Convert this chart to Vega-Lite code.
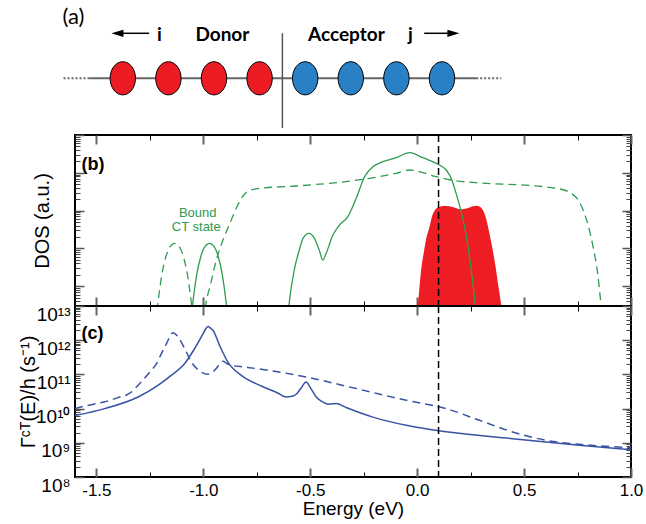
{
"$schema":"https://vega.github.io/schema/vega-lite/v6.json",
"padding":{"left":17,"top":0,"right":0,"bottom":0},
"spacing":0,
"bounds":"flush",
"datasets":{
"chain":[{"from":-4.8,"to":-4.23,"level":2.1,"kind":"dotted"},{"from":-4.23,"to":4.25,"level":2.1,"kind":"solid"},{"from":4.25,"to":4.8,"level":2.1,"kind":"dotted"}],
"interface":[{"site":0,"bottom":0.26,"top":3.77}],
"sites":[{"site":-3.5,"level":2.1,"side":"Donor"},{"site":-2.5,"level":2.1,"side":"Donor"},{"site":-1.5,"level":2.1,"side":"Donor"},{"site":-0.5,"level":2.1,"side":"Donor"},{"site":0.5,"level":2.1,"side":"Acceptor"},{"site":1.5,"level":2.1,"side":"Acceptor"},{"site":2.5,"level":2.1,"side":"Acceptor"},{"site":3.5,"level":2.1,"side":"Acceptor"}],
"arrows":[{"from":-3.55,"to":-2.92,"level":3.767,"dir":"left","tip":-3.618},{"from":3.11,"to":3.64,"level":3.767,"dir":"right","tip":3.75}],
"labelsA":[{"site":-2.697,"level":3.704,"t":"i"},{"site":-1.316,"level":3.704,"t":"Donor"},{"site":1.404,"level":3.704,"t":"Acceptor"},{"site":2.807,"level":3.704,"t":"j"}],
"panelA":[{"site":-4.583,"level":4.352,"t":"(a)"}],
"threshold":[{"E":0.1}],
"panelB":[{"E":-1.57,"DOS":16070,"t":"(b)"}],
"panelC":[{"E":-1.57,"rate":1.538e12,"t":"(c)"}],
"boundLabel":[{"E":-1.026,"DOS":865,"t":"Bound"},{"E":-1.033,"DOS":375,"t":"CT state"}],
"acceptorDOS":[{"E":0.003,"DOS":3.0},{"E":0.012,"DOS":11},{"E":0.02,"DOS":31.6},{"E":0.03,"DOS":71},{"E":0.042,"DOS":178},{"E":0.057,"DOS":355},{"E":0.068,"DOS":660},{"E":0.082,"DOS":1000},{"E":0.097,"DOS":1202},{"E":0.12,"DOS":1324},{"E":0.15,"DOS":1300},{"E":0.18,"DOS":1180},{"E":0.206,"DOS":1080},{"E":0.235,"DOS":1150},{"E":0.26,"DOS":1300},{"E":0.276,"DOS":1350},{"E":0.295,"DOS":1250},{"E":0.307,"DOS":1038},{"E":0.322,"DOS":625},{"E":0.338,"DOS":250},{"E":0.352,"DOS":100},{"E":0.366,"DOS":35},{"E":0.38,"DOS":10},{"E":0.394,"DOS":3.0}],
"dosDashed":[{"E":-1.224,"DOS":1.0},{"E":-1.214,"DOS":3.02},{"E":-1.204,"DOS":8.3},{"E":-1.194,"DOS":20},{"E":-1.174,"DOS":63},{"E":-1.154,"DOS":115},{"E":-1.134,"DOS":136},{"E":-1.114,"DOS":115},{"E":-1.094,"DOS":63},{"E":-1.074,"DOS":20},{"E":-1.064,"DOS":8.3},{"E":-1.054,"DOS":3.02},{"E":-1.044,"DOS":1.0},{"E":-0.999,"DOS":1.0},{"E":-0.989,"DOS":3.05},{"E":-0.967,"DOS":10.8},{"E":-0.939,"DOS":49.3},{"E":-0.908,"DOS":167},{"E":-0.877,"DOS":443},{"E":-0.841,"DOS":1324},{"E":-0.807,"DOS":2748},{"E":-0.776,"DOS":3508},{"E":-0.743,"DOS":3846},{"E":-0.565,"DOS":4477},{"E":-0.254,"DOS":6730},{"E":-0.098,"DOS":9705},{"E":-0.036,"DOS":11860},{"E":0.089,"DOS":7889},{"E":0.159,"DOS":6457},{"E":0.65,"DOS":3890},{"E":0.72,"DOS":2871},{"E":0.758,"DOS":1718},{"E":0.79,"DOS":625},{"E":0.821,"DOS":123},{"E":0.845,"DOS":19.8},{"E":0.86,"DOS":3.05},{"E":0.868,"DOS":1.0}],
"dosSolid":[{"E":-1.061,"DOS":1.0},{"E":-1.051,"DOS":3.02},{"E":-1.041,"DOS":8.3},{"E":-1.031,"DOS":20},{"E":-1.011,"DOS":63},{"E":-0.991,"DOS":115},{"E":-0.971,"DOS":136},{"E":-0.951,"DOS":115},{"E":-0.931,"DOS":63},{"E":-0.911,"DOS":20},{"E":-0.901,"DOS":8.3},{"E":-0.891,"DOS":3.02},{"E":-0.881,"DOS":1.0},{"E":-0.608,"DOS":1.0},{"E":-0.6,"DOS":3.05},{"E":-0.573,"DOS":29.8},{"E":-0.551,"DOS":90.8},{"E":-0.533,"DOS":188},{"E":-0.506,"DOS":251},{"E":-0.481,"DOS":188},{"E":-0.458,"DOS":90.8},{"E":-0.441,"DOS":49.3},{"E":-0.425,"DOS":75.5},{"E":-0.394,"DOS":226},{"E":-0.363,"DOS":416},{"E":-0.324,"DOS":690},{"E":-0.285,"DOS":2113},{"E":-0.246,"DOS":7889},{"E":-0.207,"DOS":14490},{"E":-0.16,"DOS":19680},{"E":-0.098,"DOS":25060},{"E":-0.036,"DOS":34040},{"E":0.027,"DOS":25060},{"E":0.097,"DOS":16790},{"E":0.136,"DOS":11860},{"E":0.159,"DOS":7145},{"E":0.182,"DOS":2871},{"E":0.206,"DOS":935},{"E":0.229,"DOS":226},{"E":0.252,"DOS":29.8},{"E":0.272,"DOS":3.05},{"E":0.28,"DOS":1.0}],
"rateDashed":[{"E":-1.6,"rate":1.0e10},{"E":-1.55,"rate":1.202e10},{"E":-1.5,"rate":1.413e10},{"E":-1.461,"rate":1.585e10},{"E":-1.4,"rate":2.089e10},{"E":-1.336,"rate":3.055e10},{"E":-1.313,"rate":4.266e10},{"E":-1.28,"rate":7.079e10},{"E":-1.243,"rate":1.318e11},{"E":-1.22,"rate":1.995e11},{"E":-1.196,"rate":4.055e11},{"E":-1.17,"rate":8.511e11},{"E":-1.155,"rate":1.318e12},{"E":-1.142,"rate":1.66e12},{"E":-1.118,"rate":1.242e12},{"E":-1.087,"rate":5.675e11},{"E":-1.056,"rate":2.307e11},{"E":-1.017,"rate":1.256e11},{"E":-0.978,"rate":1.007e11},{"E":-0.947,"rate":1.318e11},{"E":-0.92,"rate":2.089e11},{"E":-0.908,"rate":2.415e11},{"E":-0.89,"rate":2.089e11},{"E":-0.869,"rate":1.845e11},{"E":-0.807,"rate":1.644e11},{"E":-0.729,"rate":1.413e11},{"E":-0.519,"rate":8.395e10},{"E":-0.285,"rate":3.846e10},{"E":-0.051,"rate":1.75e10},{"E":0.136,"rate":1.0e10},{"E":0.291,"rate":4.55e9},{"E":0.447,"rate":2.07e9},{"E":0.603,"rate":1.183e9},{"E":0.758,"rate":9.036e8},{"E":1.0,"rate":7.244e8}],
"rateSolid":[{"E":-1.6,"rate":6.31e9},{"E":-1.461,"rate":1.0e10},{"E":-1.305,"rate":2.188e10},{"E":-1.212,"rate":4.786e10},{"E":-1.15,"rate":9.333e10},{"E":-1.087,"rate":2.089e11},{"E":-1.041,"rate":5.623e11},{"E":-1.001,"rate":1.549e12},{"E":-0.988,"rate":2.188e12},{"E":-0.978,"rate":2.512e12},{"E":-0.966,"rate":2.239e12},{"E":-0.955,"rate":1.95e12},{"E":-0.924,"rate":7.079e11},{"E":-0.885,"rate":2.291e11},{"E":-0.822,"rate":9.333e10},{"E":-0.729,"rate":4.571e10},{"E":-0.65,"rate":2.818e10},{"E":-0.612,"rate":2.188e10},{"E":-0.585,"rate":2.291e10},{"E":-0.565,"rate":2.63e10},{"E":-0.545,"rate":3.802e10},{"E":-0.519,"rate":6.026e10},{"E":-0.5,"rate":4.169e10},{"E":-0.472,"rate":2.188e10},{"E":-0.444,"rate":1.585e10},{"E":-0.417,"rate":1.349e10},{"E":-0.393,"rate":1.38e10},{"E":-0.379,"rate":1.413e10},{"E":-0.332,"rate":1.072e10},{"E":-0.207,"rate":5.623e9},{"E":-0.051,"rate":3.236e9},{"E":0.136,"rate":2.089e9},{"E":0.447,"rate":1.318e9},{"E":0.758,"rate":8.511e8},{"E":1.0,"rate":6.31e8}]
},
"vconcat":[
{
"width":556,"height":135,"view":{"stroke":null},
"layer":[
{"data":{"name":"chain"},"mark":{"type":"rule","color":"#666","strokeWidth":2},
 "encoding":{"x":{"field":"from","type":"quantitative","scale":{"domain":[-4.548,7.645],"nice":false,"zero":false},"axis":null},"x2":{"field":"to"},
  "y":{"field":"level","type":"quantitative","scale":{"domain":[0,5],"nice":false,"zero":false},"axis":null},
  "strokeDash":{"field":"kind","type":"nominal","scale":{"domain":["solid","dotted"],"range":[[1,0],[2,2]]},"legend":null}}},
{"data":{"name":"interface"},"mark":{"type":"rule","color":"#555","strokeWidth":1.5},
 "encoding":{"x":{"field":"site","type":"quantitative","scale":{"domain":[-4.548,7.645],"nice":false,"zero":false},"axis":null},
  "y":{"field":"bottom","type":"quantitative","scale":{"domain":[0,5],"nice":false,"zero":false},"axis":null},"y2":{"field":"top"}}},
{"data":{"name":"sites"},"mark":{"type":"point","shape":"M 0 -1 C 0.423 -1 0.766 -0.552 0.766 0 C 0.766 0.552 0.423 1 0 1 C -0.423 1 -0.766 0.552 -0.766 0 C -0.766 -0.552 -0.423 -1 0 -1 Z","size":1100,"filled":true,"opacity":1,"stroke":"black","strokeWidth":1},
 "encoding":{"x":{"field":"site","type":"quantitative","scale":{"domain":[-4.548,7.645],"nice":false,"zero":false},"axis":null},
  "y":{"field":"level","type":"quantitative","scale":{"domain":[0,5],"nice":false,"zero":false},"axis":null},
  "color":{"field":"side","type":"nominal","scale":{"domain":["Donor","Acceptor"],"range":["#ed1c24","#2a80c5"]},"legend":null}}},
{"data":{"name":"arrows"},"mark":{"type":"rule","color":"black","strokeWidth":1.5},
 "encoding":{"x":{"field":"from","type":"quantitative","scale":{"domain":[-4.548,7.645],"nice":false,"zero":false},"axis":null},"x2":{"field":"to"},
  "y":{"field":"level","type":"quantitative","scale":{"domain":[0,5],"nice":false,"zero":false},"axis":null}}},
{"data":{"name":"arrows"},"mark":{"type":"point","size":144,"filled":true,"opacity":1,"color":"black"},
 "encoding":{"x":{"field":"tip","type":"quantitative","scale":{"domain":[-4.548,7.645],"nice":false,"zero":false},"axis":null},
  "y":{"field":"level","type":"quantitative","scale":{"domain":[0,5],"nice":false,"zero":false},"axis":null},
  "shape":{"field":"dir","type":"nominal","scale":{"domain":["left","right"],"range":["M -1 0 L 1 -0.6 L 1 0.6 Z","M 1 0 L -1 -0.6 L -1 0.6 Z"]},"legend":null}}},
{"data":{"name":"labelsA"},"mark":{"type":"text","font":"Lato","fontWeight":"bold","fontSize":19,"align":"center","baseline":"middle","color":"black"},
 "encoding":{"x":{"field":"site","type":"quantitative","scale":{"domain":[-4.548,7.645],"nice":false,"zero":false},"axis":null},
  "y":{"field":"level","type":"quantitative","scale":{"domain":[0,5],"nice":false,"zero":false},"axis":null},"text":{"field":"t"}}},
{"data":{"name":"panelA"},"mark":{"type":"text","font":"Lato","fontSize":22,"align":"center","baseline":"middle","color":"black"},
 "encoding":{"x":{"field":"site","type":"quantitative","scale":{"domain":[-4.548,7.645],"nice":false,"zero":false},"axis":null},
  "y":{"field":"level","type":"quantitative","scale":{"domain":[0,5],"nice":false,"zero":false},"axis":null},"text":{"field":"t"}}}
]
},
{
"width":556,"height":171,
"resolve":{"axis":{"x":"independent","y":"independent"}},
"layer":[
{"data":{"name":"acceptorDOS"},"mark":{"type":"area","color":"#ee1d24","clip":true,"interpolate":"monotone"},
 "encoding":{"x":{"field":"E","type":"quantitative","scale":{"domain":[-1.6,1.0],"nice":false,"zero":false},"axis":{"orient":"bottom","values":[-1.5,-1,-0.5,0,0.5,1],"tickSize":-9,"tickColor":"#666","tickWidth":2,"labels":false,"title":null}},
  "y":{"field":"DOS","type":"quantitative","scale":{"type":"log","domain":[3,100000],"nice":false},"axis":{"orient":"left","values":[10,100,1000,10000,100000],"tickSize":-9,"tickColor":"#555","tickWidth":1.5,"labels":false,"title":"DOS (a.u.)","titleFontSize":20,"titleFontWeight":"normal","titleX":-27,"titleBaseline":"alphabetic"}},
  "y2":{"datum":3}}},
{"data":{"name":"dosDashed"},"mark":{"type":"line","color":"#2e9b50","strokeWidth":1.3,"strokeDash":[8,5],"clip":true,"interpolate":"monotone"},
 "encoding":{"x":{"field":"E","type":"quantitative","scale":{"domain":[-1.6,1.0],"nice":false,"zero":false},"axis":{"orient":"bottom","values":[-1.25,-0.75,-0.25,0.25,0.75],"tickSize":-5,"tickColor":"#111","tickWidth":1,"labels":false,"title":null}},
  "y":{"field":"DOS","type":"quantitative","scale":{"type":"log","domain":[3,100000],"nice":false},"axis":{"orient":"left","values":[4,5,6,7,8,9,20,30,40,50,60,70,80,90,200,300,400,500,600,700,800,900,2000,3000,4000,5000,6000,7000,8000,9000,20000,30000,40000,50000,60000,70000,80000,90000],"tickSize":-5,"tickColor":"#444","tickWidth":1,"labels":false,"title":null}}}},
{"data":{"name":"dosSolid"},"mark":{"type":"line","color":"#2e9b50","strokeWidth":1.3,"clip":true,"interpolate":"monotone"},
 "encoding":{"x":{"field":"E","type":"quantitative","scale":{"domain":[-1.6,1.0],"nice":false,"zero":false},"axis":{"orient":"top","values":[-1.5,-1,-0.5,0,0.5,1],"tickSize":-9,"tickColor":"#666","tickWidth":2,"labels":false,"title":null}},
  "y":{"field":"DOS","type":"quantitative","scale":{"type":"log","domain":[3,100000],"nice":false},"axis":{"orient":"right","values":[10,100,1000,10000,100000],"tickSize":-9,"tickColor":"#555","tickWidth":1.5,"labels":false,"title":null}}}},
{"data":{"name":"threshold"},"mark":{"type":"rule","color":"black","strokeWidth":1.5,"strokeDash":[7,4]},
 "encoding":{"x":{"field":"E","type":"quantitative","scale":{"domain":[-1.6,1.0],"nice":false,"zero":false},"axis":{"orient":"top","values":[-1.25,-0.75,-0.25,0.25,0.75],"tickSize":-5,"tickColor":"#111","tickWidth":1,"labels":false,"title":null}}}},
{"data":{"name":"panelB"},"mark":{"type":"text","fontWeight":"bold","fontSize":18,"align":"left","baseline":"middle","color":"black"},
 "encoding":{"x":{"field":"E","type":"quantitative","scale":{"domain":[-1.6,1.0],"nice":false,"zero":false},"axis":null},
  "y":{"field":"DOS","type":"quantitative","scale":{"type":"log","domain":[3,100000],"nice":false},"axis":{"orient":"right","values":[4,5,6,7,8,9,20,30,40,50,60,70,80,90,200,300,400,500,600,700,800,900,2000,3000,4000,5000,6000,7000,8000,9000,20000,30000,40000,50000,60000,70000,80000,90000],"tickSize":-5,"tickColor":"#444","tickWidth":1,"labels":false,"title":null}},
  "text":{"field":"t"}}},
{"data":{"name":"boundLabel"},"mark":{"type":"text","fontSize":13,"align":"center","baseline":"middle","color":"#2e9b50"},
 "encoding":{"x":{"field":"E","type":"quantitative","scale":{"domain":[-1.6,1.0],"nice":false,"zero":false},"axis":null},
  "y":{"field":"DOS","type":"quantitative","scale":{"type":"log","domain":[3,100000],"nice":false},"axis":null},
  "text":{"field":"t"}}}
]
},
{
"width":556,"height":171,
"resolve":{"axis":{"x":"independent","y":"independent"}},
"layer":[
{"data":{"name":"rateDashed"},"mark":{"type":"line","color":"#3953a4","strokeWidth":1.5,"strokeDash":[8,5],"clip":true,"interpolate":"monotone"},
 "encoding":{"x":{"field":"E","type":"quantitative","scale":{"domain":[-1.6,1.0],"nice":false,"zero":false},"axis":{"orient":"bottom","values":[-1.5,-1,-0.5,0,0.5,1],"ticks":false,"labelExpr":"replace(format(datum.value,'.1f'),'−','-')","labelFontSize":17,"labelPadding":18,"labelBaseline":"alphabetic","labelFlush":false,"labelOverlap":false,"labelBound":false,"title":"Energy (eV)","titleFontSize":19,"titleFontWeight":"normal","titleBaseline":"alphabetic","titleY":37}},
  "y":{"field":"rate","type":"quantitative","scale":{"type":"log","domain":[1e8,1e13],"nice":false},"axis":{"orient":"left","values":[1e8,1e9,1e10,1e11,1e12,1e13],"ticks":false,"labelExpr":"['10⁸','10⁹','10¹⁰','10¹¹','10¹²','10¹³'][round(log(datum.value)/LN10)-8]","labelFontSize":19,"labelPadding":5,"labelOffset":14,"labelBaseline":"alphabetic","labelOverlap":false,"labelFlush":false,"title":"Γᶜᵀ(E)/h (s⁻¹)","titleFontSize":20,"titleFontWeight":"normal","titleX":-41,"titleBaseline":"alphabetic"}}}},
{"data":{"name":"rateSolid"},"mark":{"type":"line","color":"#3953a4","strokeWidth":1.5,"clip":true,"interpolate":"monotone"},
 "encoding":{"x":{"field":"E","type":"quantitative","scale":{"domain":[-1.6,1.0],"nice":false,"zero":false},"axis":{"orient":"bottom","values":[-1.5,-1,-0.5,0,0.5,1],"tickSize":-9,"tickColor":"#666","tickWidth":2,"labels":false,"title":null}},
  "y":{"field":"rate","type":"quantitative","scale":{"type":"log","domain":[1e8,1e13],"nice":false},"axis":{"orient":"left","values":[1e8,1e9,1e10,1e11,1e12,1e13],"tickSize":-9,"tickColor":"#555","tickWidth":1.5,"labels":false,"title":null}}}},
{"data":{"name":"threshold"},"mark":{"type":"rule","color":"black","strokeWidth":1.5,"strokeDash":[7,4]},
 "encoding":{"x":{"field":"E","type":"quantitative","scale":{"domain":[-1.6,1.0],"nice":false,"zero":false},"axis":{"orient":"top","values":[-1.5,-1,-0.5,0,0.5,1],"tickSize":-9,"tickColor":"#666","tickWidth":2,"labels":false,"title":null}}}},
{"data":{"name":"panelC"},"mark":{"type":"text","fontWeight":"bold","fontSize":18,"align":"left","baseline":"middle","color":"black"},
 "encoding":{"x":{"field":"E","type":"quantitative","scale":{"domain":[-1.6,1.0],"nice":false,"zero":false},"axis":{"orient":"top","values":[-1.25,-0.75,-0.25,0.25,0.75],"tickSize":-5,"tickColor":"#111","tickWidth":1,"labels":false,"title":null}},
  "y":{"field":"rate","type":"quantitative","scale":{"type":"log","domain":[1e8,1e13],"nice":false},"axis":{"orient":"left","values":[2e8,3e8,4e8,5e8,6e8,7e8,8e8,9e8,2e9,3e9,4e9,5e9,6e9,7e9,8e9,9e9,2e10,3e10,4e10,5e10,6e10,7e10,8e10,9e10,2e11,3e11,4e11,5e11,6e11,7e11,8e11,9e11,2e12,3e12,4e12,5e12,6e12,7e12,8e12,9e12],"tickSize":-5,"tickColor":"#444","tickWidth":1,"labels":false,"title":null}},
  "text":{"field":"t"}}},
{"data":{"name":"rateSolid"},"mark":{"type":"point","opacity":0},
 "encoding":{"x":{"field":"E","type":"quantitative","scale":{"domain":[-1.6,1.0],"nice":false,"zero":false},"axis":{"orient":"bottom","values":[-1.25,-0.75,-0.25,0.25,0.75],"tickSize":-5,"tickColor":"#111","tickWidth":1,"labels":false,"title":null}},
  "y":{"field":"rate","type":"quantitative","scale":{"type":"log","domain":[1e8,1e13],"nice":false},"axis":{"orient":"right","values":[1e8,1e9,1e10,1e11,1e12,1e13],"tickSize":-9,"tickColor":"#555","tickWidth":1.5,"labels":false,"title":null}}}},
{"data":{"name":"rateDashed"},"mark":{"type":"point","opacity":0},
 "encoding":{"x":{"field":"E","type":"quantitative","scale":{"domain":[-1.6,1.0],"nice":false,"zero":false},"axis":null},
  "y":{"field":"rate","type":"quantitative","scale":{"type":"log","domain":[1e8,1e13],"nice":false},"axis":{"orient":"right","values":[2e8,3e8,4e8,5e8,6e8,7e8,8e8,9e8,2e9,3e9,4e9,5e9,6e9,7e9,8e9,9e9,2e10,3e10,4e10,5e10,6e10,7e10,8e10,9e10,2e11,3e11,4e11,5e11,6e11,7e11,8e11,9e11,2e12,3e12,4e12,5e12,6e12,7e12,8e12,9e12],"tickSize":-5,"tickColor":"#444","tickWidth":1,"labels":false,"title":null}}}}
]
}
],
"config":{"font":"Liberation Sans","view":{"stroke":"black","strokeWidth":2},"axis":{"domain":false,"grid":false,"labelColor":"black","titleColor":"black","labelFont":"Liberation Sans","titleFont":"Liberation Sans"}}
}
